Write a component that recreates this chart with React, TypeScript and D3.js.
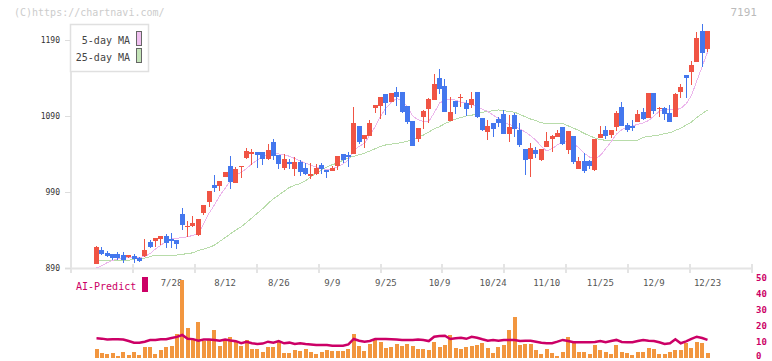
import * as d3 from "d3";
import { useEffect, useRef } from "react";

// trading days shown on the chart
const dates = [
  "7/7", "7/8", "7/9", "7/10", "7/11", "7/14", "7/15", "7/16", "7/17", "7/18", "7/22", "7/23", "7/24", "7/25",
  "7/28", "7/29", "7/30", "7/31", "8/1", "8/4", "8/5", "8/6", "8/7", "8/8",
  "8/12", "8/13", "8/14", "8/15", "8/18", "8/19", "8/20", "8/21", "8/22", "8/25",
  "8/26", "8/27", "8/28", "8/29", "9/1", "9/2", "9/3", "9/4", "9/5", "9/8",
  "9/9", "9/10", "9/11", "9/12", "9/16", "9/17", "9/18", "9/19", "9/22", "9/24",
  "9/25", "9/26", "9/29", "9/30", "10/1", "10/2", "10/3", "10/6", "10/7", "10/8",
  "10/9", "10/10", "10/14", "10/15", "10/16", "10/17", "10/20", "10/21", "10/22", "10/23",
  "10/24", "10/27", "10/28", "10/29", "10/30", "10/31", "11/4", "11/5", "11/6", "11/7",
  "11/10", "11/11", "11/12", "11/13", "11/14", "11/17", "11/18", "11/19", "11/20", "11/21",
  "11/25", "11/26", "11/27", "11/28", "12/1", "12/2", "12/3", "12/4", "12/5", "12/8",
  "12/9", "12/10", "12/11", "12/12", "12/15", "12/16", "12/17", "12/18", "12/19", "12/22",
  "12/23",
];

const opens = [
  895, 914, 910, 909, 909, 907, 904, 906, 903, 906,
  924, 926, 928, 932, 928, 927, 961, 944, 945, 933,
  962, 977, 999, 998, 1010, 1024, 1002, 1023, 1035, 1040,
  1042, 1042, 1033, 1056, 1039, 1022, 1030, 1020, 1030, 1022,
  1011, 1014, 1026, 1019, 1018, 1024, 1040, 1039, 1040, 1077,
  1060, 1064, 1101, 1103, 1119, 1108, 1122, 1122, 1103, 1083,
  1060, 1089, 1099, 1111, 1140, 1130, 1083, 1110, 1114, 1107,
  1105, 1122, 1087, 1069, 1081, 1086, 1093, 1066, 1091, 1072,
  1047, 1033, 1045, 1032, 1049, 1060, 1062, 1076, 1045, 1064,
  1020, 1031, 1031, 1019, 1061, 1072, 1065, 1076, 1102, 1078,
  1077, 1082, 1095, 1087, 1120, 1100, 1101, 1094, 1089, 1122,
  1144, 1148, 1161, 1202, 1178,
];
const highs = [
  919, 917, 912, 909, 911, 911, 907, 908, 905, 928,
  927, 930, 932, 935, 936, 927, 969, 952, 958, 955,
  973, 991, 1012, 1005, 1016, 1037, 1023, 1024, 1048, 1047,
  1042, 1042, 1053, 1060, 1039, 1040, 1033, 1036, 1032, 1028,
  1028, 1027, 1028, 1019, 1024, 1037, 1040, 1043, 1102, 1077,
  1065, 1085, 1105, 1115, 1119, 1120, 1128, 1122, 1103, 1083,
  1074, 1098, 1114, 1145, 1152, 1139, 1115, 1110, 1119, 1111,
  1122, 1122, 1087, 1085, 1081, 1089, 1098, 1091, 1094, 1081,
  1047, 1054, 1049, 1047, 1069, 1065, 1072, 1076, 1070, 1064,
  1036, 1041, 1032, 1060, 1077, 1077, 1072, 1097, 1108, 1081,
  1085, 1098, 1101, 1120, 1120, 1102, 1102, 1104, 1120, 1132,
  1144, 1162, 1201, 1211, 1202,
];
const lows = [
  895, 907, 904, 900, 901, 897, 903, 896, 898, 905,
  916, 918, 920, 916, 916, 915, 940, 931, 944, 932,
  960, 970, 990, 991, 1010, 994, 1002, 1008, 1033, 1026,
  1022, 1026, 1032, 1032, 1020, 1019, 1020, 1011, 1011, 1012,
  1007, 1012, 1014, 1008, 1018, 1019, 1028, 1023, 1040, 1053,
  1048, 1064, 1094, 1086, 1091, 1108, 1103, 1094, 1080, 1051,
  1056, 1073, 1081, 1111, 1119, 1095, 1083, 1093, 1102, 1090,
  1101, 1087, 1070, 1058, 1062, 1076, 1066, 1056, 1062, 1049,
  1012, 1010, 1035, 1031, 1049, 1043, 1062, 1052, 1040, 1027,
  1020, 1015, 1020, 1018, 1061, 1060, 1061, 1070, 1077, 1069,
  1070, 1082, 1085, 1087, 1093, 1089, 1085, 1082, 1089, 1114,
  1114, 1131, 1161, 1154, 1174,
];
const closes = [
  918, 909, 906, 903, 903, 901, 907, 902, 899, 914,
  918, 930, 932, 923, 925, 922, 947, 945, 949, 955,
  973, 991, 995, 1005, 1016, 1003, 1020, 1024, 1044, 1042,
  1039, 1034, 1045, 1037, 1027, 1033, 1027, 1030, 1016, 1014,
  1014, 1022, 1020, 1016, 1022, 1037, 1032, 1036, 1081, 1056,
  1065, 1081, 1105, 1115, 1107, 1120, 1115, 1095, 1082, 1051,
  1074, 1097, 1112, 1132, 1126, 1095, 1095, 1102, 1115, 1099,
  1112, 1089, 1072, 1077, 1073, 1081, 1066, 1076, 1073, 1052,
  1032, 1048, 1040, 1047, 1057, 1064, 1068, 1053, 1070, 1030,
  1031, 1018, 1024, 1060, 1066, 1064, 1072, 1094, 1077, 1072,
  1074, 1093, 1086, 1120, 1097, 1101, 1093, 1082, 1119, 1128,
  1140, 1157, 1193, 1173, 1202,
];

const ma5 = [
  890, 893, 897, 900, 902, 903, 904, 904, 904, 905,
  909, 915, 920, 925, 928, 929, 930, 931, 933, 935,
  948, 962, 973, 985, 995, 1005, 1012, 1016, 1021, 1027,
  1032, 1036, 1039, 1041, 1040, 1039, 1037, 1034, 1031, 1028,
  1025, 1023, 1021, 1019, 1021, 1023, 1027, 1032, 1045, 1050,
  1054, 1065, 1076, 1090, 1100, 1108, 1113, 1111, 1102, 1090,
  1085, 1083, 1083, 1094, 1107, 1111, 1112, 1111, 1108, 1107,
  1105, 1102, 1099, 1096, 1091, 1087, 1082, 1079, 1076, 1073,
  1069, 1064, 1058, 1050, 1044, 1047, 1052, 1056, 1058, 1054,
  1048, 1041, 1036, 1033, 1038, 1047, 1056, 1066, 1072, 1075,
  1077, 1079, 1081, 1084, 1090, 1096, 1099, 1098, 1098, 1100,
  1106, 1117, 1136, 1155, 1174,
];
const ma25 = [
  900, 900, 900, 900, 900, 900, 900, 902, 903, 903,
  905, 907, 907, 907, 907, 907, 908, 909, 910, 913,
  915, 917, 920, 925, 930, 935, 940, 944, 950, 956,
  962, 968, 975, 981, 986, 991, 996, 999, 1001, 1005,
  1010, 1015, 1019, 1023, 1026, 1028, 1032, 1035, 1037, 1039,
  1041, 1044, 1047, 1050, 1052, 1053, 1054, 1055, 1057, 1059,
  1062, 1065, 1069, 1073, 1076, 1080, 1083, 1086, 1088, 1090,
  1091, 1093, 1095, 1096, 1097, 1098, 1097, 1096, 1095, 1092,
  1089, 1086, 1084, 1081, 1080, 1080, 1080, 1080, 1077, 1074,
  1071, 1067, 1064, 1061, 1059, 1058, 1058, 1058, 1058, 1058,
  1058, 1058, 1062, 1063, 1064, 1065, 1067, 1068, 1071, 1074,
  1078, 1082, 1088, 1093, 1098,
];

const volume = [
  5.6, 3.1, 2.5, 3.1, 1.3, 3.8, 1.9, 3.8, 1.9, 6.9,
  6.9, 2.5, 5, 6.9, 7.5, 15, 49, 18.8, 11.3, 22.5,
  10.6, 11.9, 17.5, 7.5, 11.9, 13, 10, 7.5, 11.3, 5.6,
  5.6, 3.8, 6.9, 6.9, 10, 3.1, 3.1, 5, 4.4, 5.6,
  3.8, 2.5, 3.8, 5, 4.4, 4.4, 4.4, 5.6, 15, 7.5,
  4.4, 8.8, 11.3, 10, 6.3, 6.9, 8.8, 7.5, 8.8, 7.5,
  5.6, 5.6, 5, 10, 6.9, 8.1, 14.4, 6.3, 5.6, 6.9,
  7.5, 8.1, 9.4, 6.3, 3.1, 6.9, 8.1, 17.5, 25.6, 8.1,
  8.8, 8.8, 5, 2.5, 5.6, 3.1, 1.3, 3.8, 13.1, 9.4,
  3.8, 3.8, 2.5, 8.1, 5, 3.8, 2.5, 8.1, 3.8, 3.1,
  1.9, 3.8, 3.8, 6.3, 5.6, 2.5, 2.5, 3.8, 5, 5,
  9.4, 6.3, 10, 9.4, 3.1,
];
const aiPredict = [
  12.3, 12.1, 11.5, 11.7, 11.7, 11.5, 10.6, 9.5, 9.5, 10.2,
  11.2, 11.3, 11.7, 11.7, 12.5, 13.2, 14.4, 12, 11.8, 10.8,
  11.5, 11.5, 11.2, 10.8, 11.5, 10.9, 10.5, 9.2, 10.2, 9.2,
  8.8, 9, 10.2, 9.6, 10.6, 9.2, 9.6, 8.8, 9.2, 8.8,
  8.5, 8.1, 8.1, 8.1, 7.7, 7.7, 7.7, 8.5, 11.9, 10.8,
  10.2, 10.6, 11.9, 11.9, 11.9, 11.7, 11.5, 11.3, 11.3, 11.3,
  11.5, 11.3, 10.6, 13.3, 13.8, 13.9, 11.9, 12.3, 12.7, 12,
  13.3, 12.7, 11.7, 10.8, 11.3, 10.8, 11.3, 11.3, 11.3, 10.6,
  10.8, 10.8, 10.2, 9.5, 9.2, 9.2, 10.2, 11.3, 10.6, 9.8,
  9.8, 9.8, 9.8, 10, 10.6, 9.8, 10.6, 11.3, 10, 9.8,
  9.8, 10.6, 11.3, 10.8, 10.6, 9.8, 8.8, 9.2, 11.7, 9.2,
  10.4, 11.9, 13.3, 12.5, 11.3,
];

const priceTicks = [890, 990, 1090, 1190];
const dateLabels = ["7/28", "8/12", "8/26", "9/9", "9/25", "10/9", "10/24", "11/10", "11/25", "12/9", "12/23"];
const volTicks = [0, 10, 20, 30, 40, 50];
const legendItems = [
  { label: "5-day MA", fill: "#f0c0f0" },
  { label: "25-day MA", fill: "#c4e4b8" },
];

export default function App() {
  const ref = useRef<SVGSVGElement>(null);

  useEffect(() => {
    const svg = d3.select(ref.current);
    svg.selectAll("*").remove();
    const mono = "'DejaVu Sans Mono', monospace";
    const up = "#f05444", down = "#4477ee";

    const x = d3.scalePoint<string>().domain(dates).range([96.5, 707.5]);
    const y = d3.scaleLinear().domain([890, 1190]).range([268, 40]);
    const yv = d3.scaleLinear().domain([0, 50]).range([358, 278]);
    const xt = d3.scaleLinear().domain([0, 11]).range([71, 752]);

    // copyright + code
    svg.append("text").attr("x", 14).attr("y", 16).text("(C)https://chartnavi.com/")
      .style("font-family", mono).style("font-size", "10px").style("fill", "#cccccc");
    svg.append("text").attr("x", 757).attr("y", 16).attr("text-anchor", "end").text("7191")
      .style("font-family", mono).style("font-size", "11px").style("fill", "#bbbbbb");

    // axes
    svg.append("line").attr("x1", 71).attr("x2", 71).attr("y1", 24).attr("y2", 269)
      .style("stroke", "#e4e4e4").style("stroke-width", 2);
    svg.append("line").attr("x1", 65).attr("x2", 753).attr("y1", 268.5).attr("y2", 268.5)
      .style("stroke", "#e4e4e4").style("stroke-width", 2);
    svg.selectAll("line.xt").data(d3.range(12)).enter().append("line")
      .attr("x1", (d) => Math.round(xt(d))).attr("x2", (d) => Math.round(xt(d)))
      .attr("y1", 264).attr("y2", 273)
      .style("stroke", "#e4e4e4").style("stroke-width", 2);

    const pt = svg.append("g");
    pt.selectAll("line").data(priceTicks).enter().append("line")
      .attr("x1", 65).attr("x2", 71)
      .attr("y1", (d) => Math.round(y(d)) + 0.5).attr("y2", (d) => Math.round(y(d)) + 0.5)
      .style("stroke", "#dddddd");
    pt.selectAll("text").data(priceTicks).enter().append("text")
      .attr("x", 60).attr("y", (d) => y(d) + 3).attr("text-anchor", "end")
      .text((d) => d)
      .style("font-family", mono).style("font-size", "8px").style("fill", "#333");

    svg.append("g").selectAll("text").data(dateLabels).enter().append("text")
      .attr("x", (d) => x(d)!).attr("y", 286).attr("text-anchor", "middle")
      .text((d) => d)
      .style("font-family", mono).style("font-size", "9px").style("fill", "#555");

    // moving averages
    const line = d3.line<number>().x((d, i) => x(dates[i])!).y((d) => y(d));
    svg.append("path").attr("d", line(ma25)).style("fill", "none")
      .style("stroke", "#b8dcaa").style("stroke-width", 1).attr("shape-rendering", "crispEdges");
    svg.append("path").attr("d", line(ma5)).style("fill", "none")
      .style("stroke", "#ecb6ec").style("stroke-width", 1).attr("shape-rendering", "crispEdges");

    // candles
    const candles = svg.append("g").attr("shape-rendering", "crispEdges");
    const g = candles.selectAll("g").data(dates).enter().append("g");
    const left = (d: string) => Math.round(x(d)! - 2.5);
    const col = (i: number) => (closes[i] >= opens[i] ? up : down);
    g.append("rect")
      .attr("x", (d) => left(d) + 2).attr("width", 1)
      .attr("y", (d, i) => y(highs[i]))
      .attr("height", (d, i) => Math.max(1, y(lows[i]) - y(highs[i])))
      .style("fill", (d, i) => col(i));
    g.append("rect")
      .attr("x", (d) => left(d)).attr("width", 5)
      .attr("y", (d, i) => y(Math.max(opens[i], closes[i])))
      .attr("height", (d, i) => Math.max(1, Math.abs(y(opens[i]) - y(closes[i]))))
      .style("fill", (d, i) => col(i));

    // legend
    const lg = svg.append("g");
    lg.append("rect").attr("x", 70.5).attr("y", 24.5).attr("width", 78).attr("height", 47)
      .style("fill", "#fff").style("stroke", "#e0e0e0").style("stroke-width", 1.5);
    legendItems.forEach((it, i) => {
      lg.append("text").attr("x", 130).attr("y", 44 + i * 17).attr("text-anchor", "end")
        .text(it.label).style("font-family", mono).style("font-size", "10px").style("fill", "#444");
      lg.append("rect").attr("x", 136.5).attr("y", 31.5 + i * 17).attr("width", 5).attr("height", 14)
        .style("fill", it.fill).style("stroke", "#666");
    });

    // volume + AI predict
    svg.append("g").attr("shape-rendering", "crispEdges")
      .selectAll("rect").data(volume).enter().append("rect")
      .attr("x", (d, i) => Math.round(x(dates[i])! - 2))
      .attr("width", 4)
      .attr("y", (d) => yv(d))
      .attr("height", (d) => yv(0) - yv(d))
      .style("fill", "#f2963f");
    svg.append("path")
      .attr("d", d3.line<number>().x((d, i) => x(dates[i])!).y((d) => yv(d))(aiPredict))
      .style("fill", "none").style("stroke", "#cc0066").style("stroke-width", 2.5);

    svg.append("g").selectAll("text").data(volTicks).enter().append("text")
      .attr("x", 756).attr("y", (d) => Math.min(yv(d) + 3, 359))
      .text((d) => d)
      .style("font-family", mono).style("font-size", "9px").style("font-weight", "bold").style("fill", "#cc0066");

    svg.append("text").attr("x", 76).attr("y", 290).text("AI-Predict")
      .style("font-family", mono).style("font-size", "10px").style("fill", "#cc0066");
    svg.append("rect").attr("x", 142).attr("y", 277).attr("width", 6).attr("height", 15)
      .style("fill", "#cc0066");
  }, []);

  return (
    <div style={{ position: "absolute", left: 0, top: 0 }}>
      <svg ref={ref} width={772} height={361} style={{ display: "block", background: "#fff" }} />
    </div>
  );
}
